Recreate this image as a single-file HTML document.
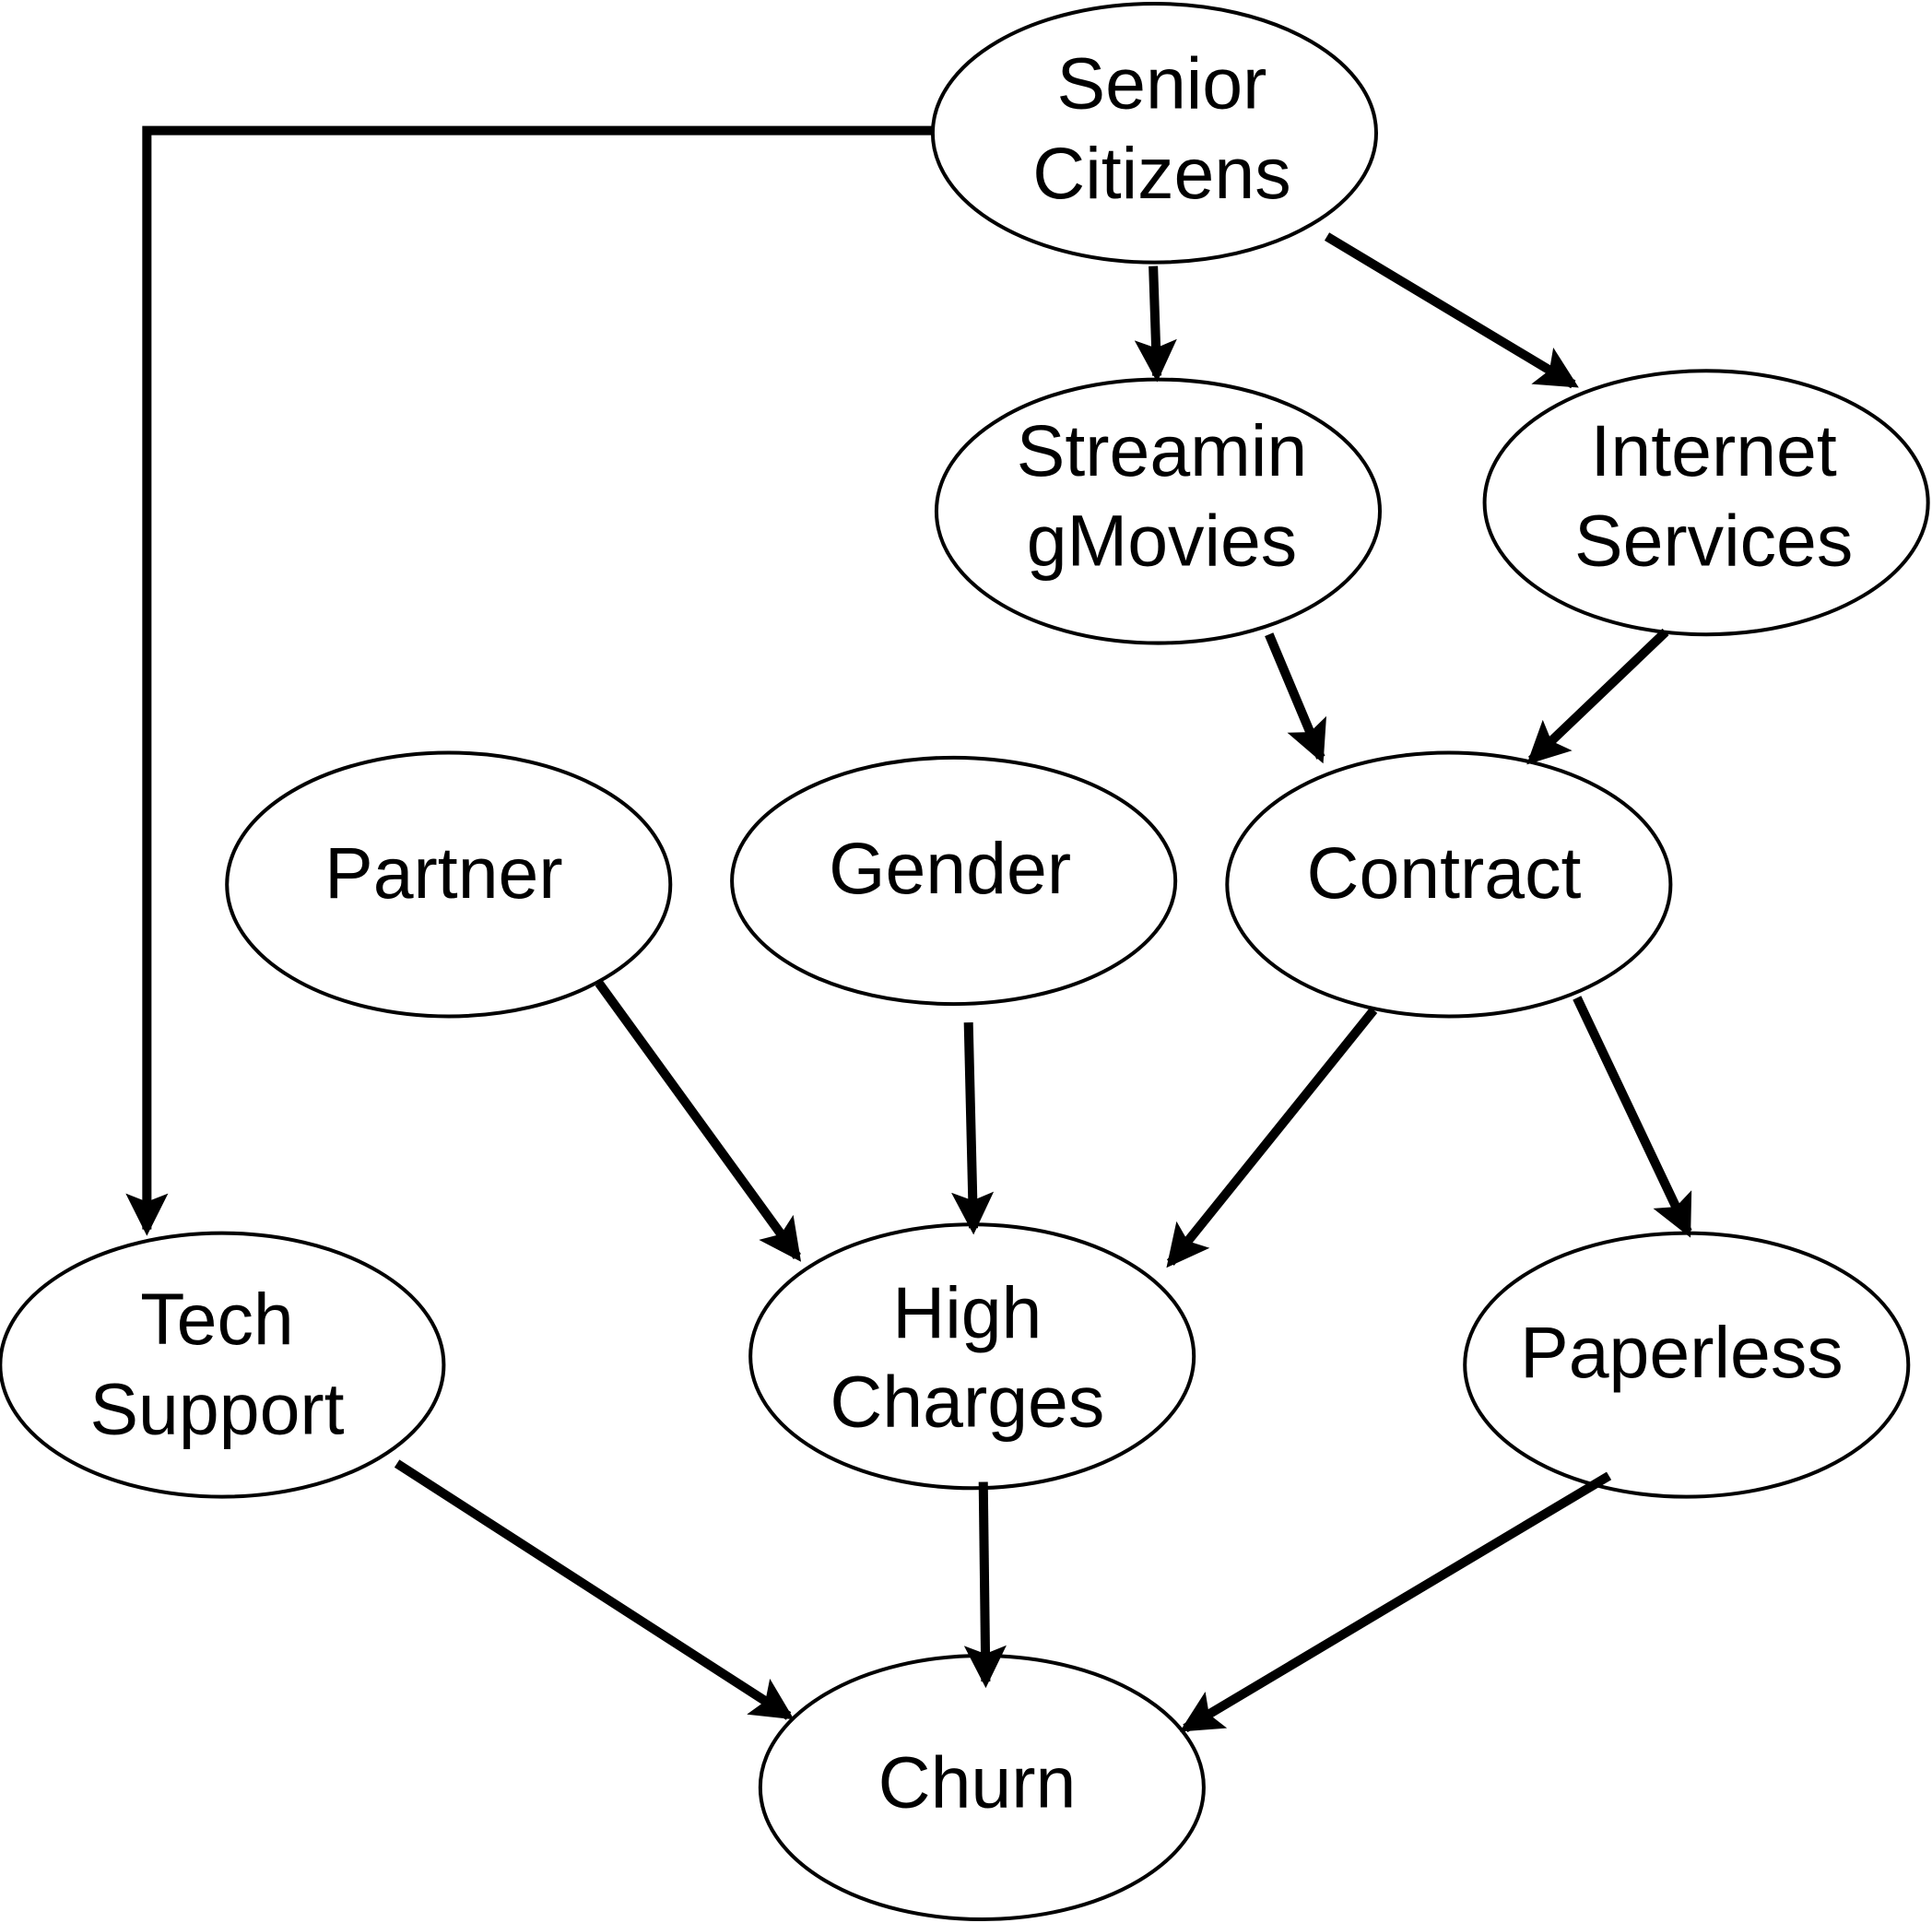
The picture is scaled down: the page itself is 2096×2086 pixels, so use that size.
<!DOCTYPE html>
<html><head><meta charset="utf-8"><style>
html,body{margin:0;padding:0;background:#fff;}
svg{display:block;}
text{font-family:"Liberation Sans",Arial,sans-serif;font-size:59px;fill:#000;text-anchor:middle;}
</style></head><body>
<svg width="2096" height="2086" viewBox="0 0 1568 1561" xmlns="http://www.w3.org/2000/svg">
<defs>
<marker id="a" markerWidth="4.6" markerHeight="4.6" refX="3.9" refY="2.3" orient="auto" markerUnits="strokeWidth">
<path d="M0,0 L4.6,2.3 L0,4.6 L0.9,2.3 Z" fill="#000"/>
</marker>
</defs>
<g fill="#fff" stroke="#000" stroke-width="3">
<ellipse cx="937" cy="108" rx="180" ry="105"/>
<ellipse cx="940" cy="415" rx="180" ry="107"/>
<ellipse cx="1385" cy="408" rx="180" ry="107"/>
<ellipse cx="364" cy="718" rx="180" ry="107"/>
<ellipse cx="774" cy="715" rx="180" ry="100"/>
<ellipse cx="1176" cy="718" rx="180" ry="107"/>
<ellipse cx="180" cy="1108" rx="180" ry="107"/>
<ellipse cx="789" cy="1101" rx="180" ry="107"/>
<ellipse cx="1369" cy="1108" rx="180" ry="107"/>
<ellipse cx="797" cy="1451" rx="180" ry="107"/>
</g>
<g stroke="#000" stroke-width="7.5" fill="none" marker-end="url(#a)">
<polyline points="757,106 119,106 119,998"/>
<line x1="936" y1="216" x2="939" y2="305"/>
<line x1="1077" y1="192" x2="1277" y2="312"/>
<line x1="1030" y1="515" x2="1072" y2="615"/>
<line x1="1352" y1="513" x2="1243" y2="617"/>
<line x1="486" y1="798" x2="647" y2="1020"/>
<line x1="786" y1="830" x2="790" y2="997"/>
<line x1="1115" y1="820" x2="950" y2="1025"/>
<line x1="1280" y1="810" x2="1370" y2="1000"/>
<line x1="322" y1="1188" x2="640" y2="1393"/>
<line x1="798" y1="1203" x2="800" y2="1365"/>
<line x1="1306" y1="1198" x2="962" y2="1403"/>
</g>
<text x="943" y="88">Senior</text>
<text x="943" y="161">Citizens</text>
<text x="943" y="386">Streamin</text>
<text x="943" y="459">gMovies</text>
<text x="1391" y="386">Internet</text>
<text x="1391" y="459">Services</text>
<text x="360" y="729">Partner</text>
<text x="771" y="725">Gender</text>
<text x="1172" y="729">Contract</text>
<text x="176" y="1091">Tech</text>
<text x="176" y="1164">Support</text>
<text x="785" y="1086">High</text>
<text x="785" y="1158">Charges</text>
<text x="1365" y="1118">Paperless</text>
<text x="793" y="1467">Churn</text>
</svg>
</body></html>
